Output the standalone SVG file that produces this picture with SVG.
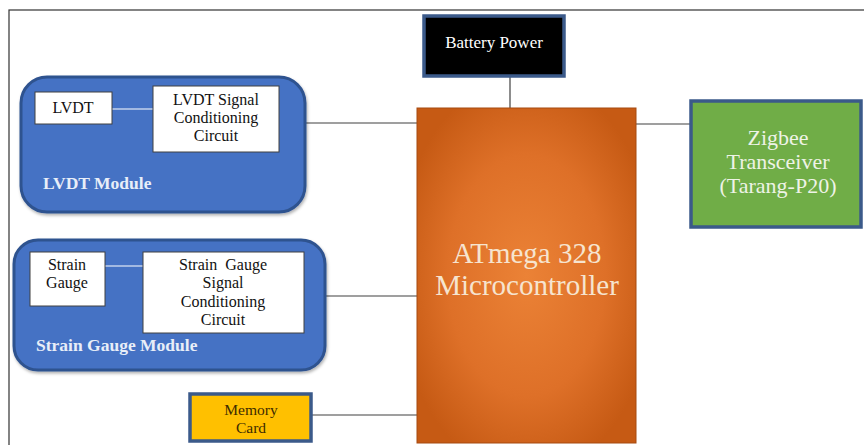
<svg xmlns="http://www.w3.org/2000/svg" width="864" height="445" viewBox="0 0 864 445">
<style>
text{font-family:"Liberation Serif","Times New Roman",serif;text-anchor:middle}
.inner{fill:#fff;stroke:#404040;stroke-width:1}
.t{font-size:16px;fill:#111}
.mod{fill:#4472c4;stroke:#2f528f;stroke-width:3}
.modlbl{font-size:17.5px;font-weight:bold;fill:#e8eef8;text-anchor:start}
.conn{stroke:#404040;stroke-width:1.2;fill:none}
.wconn{stroke:#fff;stroke-width:1.2;fill:none}
.edge{stroke:#3b5a8a;stroke-width:3.5}
</style>
<defs>
<radialGradient id="og" cx="0.5" cy="0.5" r="0.6">
<stop offset="0" stop-color="#eb8236"/>
<stop offset="0.6" stop-color="#de7028"/>
<stop offset="1" stop-color="#c65a14"/>
</radialGradient>
<filter id="sh" x="-10%" y="-10%" width="120%" height="125%">
<feDropShadow dx="1" dy="2" stdDeviation="1.5" flood-color="#000" flood-opacity="0.3"/>
</filter>
</defs>
<rect x="0" y="0" width="864" height="445" fill="#fff"/>
<rect x="9" y="10" width="870" height="440" fill="none" stroke="#333" stroke-width="1.2"/>

<g id="connectors">
<line class="conn" x1="510" y1="77" x2="510" y2="108"/>
<line class="conn" x1="636" y1="124" x2="690" y2="124"/>
<line class="conn" x1="306" y1="123" x2="417" y2="123"/>
<line class="conn" x1="326" y1="296" x2="417" y2="296"/>
<line class="conn" x1="312" y1="415" x2="417" y2="415"/>
</g>

<g id="battery">
<rect x="424" y="16" width="140" height="60" fill="#000" class="edge"/>
<text x="494" y="48" font-size="17" fill="#fff">Battery Power</text>
</g>

<g id="micro">
<rect x="417" y="108" width="219" height="335" fill="url(#og)" stroke="#a64a10" stroke-width="1"/>
<text x="527" y="263" font-size="29" fill="#f6e4cf">ATmega 328</text>
<text x="527" y="295" font-size="29" fill="#f6e4cf">Microcontroller</text>
</g>

<g id="zigbee">
<rect x="691" y="101" width="170" height="126" fill="#70ad47" class="edge"/>
<text x="778" y="145" font-size="22" fill="#eef3e6">Zigbee</text>
<text x="778" y="169" font-size="22" fill="#eef3e6">Transceiver</text>
<text x="778" y="193" font-size="22" fill="#eef3e6">(Tarang-P20)</text>
</g>

<g id="lvdt-module">
<rect x="21" y="77" width="284" height="135" rx="26" class="mod" filter="url(#sh)"/>
<text x="43" y="189" class="modlbl">LVDT Module</text>
<line class="wconn" x1="112" y1="109" x2="153" y2="109"/>
<g id="lvdt">
<rect x="35" y="92" width="77" height="32" class="inner"/>
<text x="73" y="113" class="t">LVDT</text>
</g>
<g id="lvdt-scc">
<rect x="153" y="86" width="126" height="66" class="inner"/>
<text x="216" y="105" class="t">LVDT Signal</text>
<text x="216" y="123" class="t">Conditioning</text>
<text x="216" y="141" class="t">Circuit</text>
</g>
</g>

<g id="strain-module">
<rect x="14" y="240" width="311" height="130" rx="24" class="mod" filter="url(#sh)"/>
<text x="36" y="351" class="modlbl">Strain Gauge Module</text>
<line class="wconn" x1="105" y1="266" x2="143" y2="266"/>
<g id="strain">
<rect x="30" y="252" width="75" height="54" class="inner"/>
<text x="67" y="270" class="t">Strain</text>
<text x="67" y="288" class="t">Gauge</text>
</g>
<g id="strain-scc">
<rect x="143" y="252" width="161" height="81" class="inner"/>
<text x="223" y="270" class="t" xml:space="preserve">Strain  Gauge</text>
<text x="223" y="288" class="t">Signal</text>
<text x="223" y="307" class="t">Conditioning</text>
<text x="223" y="325" class="t">Circuit</text>
</g>
</g>

<g id="memory">
<rect x="190" y="394" width="121" height="47" fill="#ffc000" class="edge"/>
<text x="251" y="415" font-size="15.5" fill="#3d2b00">Memory</text>
<text x="251" y="433" font-size="15.5" fill="#3d2b00">Card</text>
</g>
</svg>
